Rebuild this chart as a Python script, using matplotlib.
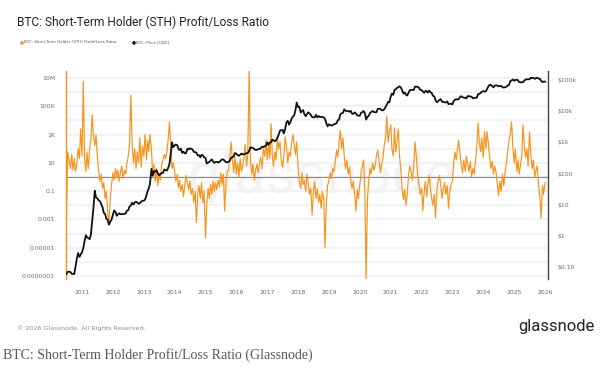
import matplotlib
matplotlib.use("Agg")
import matplotlib.pyplot as plt
import matplotlib.ticker as mticker
import pandas as pd

# samples on the 1st and 15th of each month, Jul 2010 .. Jan 2026
DATES = pd.date_range("2010-07-01", periods=373, freq="SMS")

STH_RATIO = [
    1e-3, 60, 16, 4, 40, 3, 20, 2.5, 10, 100, 20, 2500,  # 2010 H2
    30, 6e6, 16, 2.5, 60, 4, 100, 400, 25000, 1000, 160, 1000, 30, 3, 0.5, 1.6, 0.16, 0.4, 0.03, 0.1, 3e-3, 4e-4, 0.03, 0.25,  # 2011
    2, 0.6, 4, 1, 3, 0.5, 2.5, 6, 0.8, 3, 1.6, 10, 30, 200, 6e5, 300, 10, 100, 4, 60, 10, 600, 5, 160,  # 2012
    30, 1000, 16, 400, 60, 1000, 100, 1.6, 8, 0.5, 4, 0.25, 2, 0.6, 8, 16, 40, 20, 60, 400, 8000, 160, 4, 10,  # 2013
    2.5, 0.5, 1.6, 0.16, 0.6, 0.1, 0.3, 0.04, 0.25, 1.3, 0.4, 0.13, 0.5, 0.06, 0.16, 0.016, 0.1, 6e-4, 0.06, 0.25, 0.03, 0.4, 0.016, 0.1,  # 2014
    5e-5, 0.01, 0.16, 0.03, 0.3, 0.06, 0.5, 0.1, 0.4, 0.13, 0.6, 0.2, 2, 0.3, 1.6, 4e-3, 0.5, 2.5, 3, 25, 300, 16, 2, 30,  # 2015
    1.6, 10, 1, 20, 2.5, 6, 30, 200, 6, 40, 5e7, 16, 1.6, 8, 0.6, 3, 8, 2, 10, 25, 4, 100, 30, 400,  # 2016
    16, 250, 20, 6000, 40, 6, 60, 16, 700, 100, 300, 16, 5, 25, 700, 160, 10, 60, 30, 250, 1000, 200, 40, 300,  # 2017
    4, 0.5, 0.16, 2, 0.3, 0.6, 0.1, 1.6, 0.4, 0.06, 0.16, 2e-3, 0.1, 0.5, 0.03, 0.16, 0.016, 0.06, 6e-3, 0.1, 0.025, 1e-5, 0.016, 0.25,  # 2018
    0.6, 2, 0.8, 4, 2.5, 10, 80, 25, 250, 2000, 100, 600, 30, 4, 16, 1.6, 5, 0.6, 0.16, 0.5, 0.06, 4e-3, 0.13, 0.03,  # 2019
    0.3, 2, 6, 16, 0.1, 5e-8, 0.03, 0.5, 4, 1.6, 10, 3, 6, 30, 80, 16, 2, 8, 20, 160, 600, 20000, 300, 1600,  # 2020
    5000, 100, 30, 3000, 60, 300, 2500, 30, 3, 0.16, 0.025, 0.13, 0.01, 0.06, 1.6, 6, 2, 0.6, 8, 300, 25, 1.6, 0.3, 0.06,  # 2021
    0.16, 4e-3, 0.1, 0.5, 0.04, 0.25, 1.3, 0.16, 0.03, 0.01, 0.06, 1.3e-3, 0.1, 0.5, 1.3, 0.3, 0.03, 0.13, 0.4, 0.06, 0.25, 6e-3, 0.1, 0.3,  # 2022
    0.5, 10, 60, 16, 100, 400, 40, 8, 2, 16, 2.5, 30, 8, 2.5, 13, 1, 4, 1.6, 16, 100, 7000, 300, 60, 600,  # 2023
    25, 1600, 100, 1600, 250, 30, 4, 13, 1.6, 6, 2, 0.3, 0.05, 0.5, 0.1, 1.6, 0.25, 2.5, 10, 60, 400, 1000, 8000, 160,  # 2024
    10, 100, 2.5, 16, 1.6, 6, 30, 5000, 160, 25, 100, 6, 1600, 60, 4, 16, 1, 3, 6, 0.3, 0.04, 1.3e-3, 0.25, 0.06,  # 2025
    0.4,  # 2026
]

BTC_PRICE = [
    0.06, 0.07, 0.07, 0.07, 0.06, 0.06, 0.06, 0.10, 0.19, 0.28, 0.21, 0.25,  # 2010 H2
    0.30, 0.40, 0.70, 1.05, 0.90, 0.85, 0.78, 1.1, 3.2, 7.5, 28, 17, 16, 13.8, 13, 10.5, 8.2, 5.5, 5.0, 3.6, 3.2, 2.3, 2.8, 3.3,  # 2011
    4.7, 6.5, 5.9, 4.4, 4.9, 5.3, 4.9, 5.0, 5.0, 5.0, 5.3, 6.4, 6.7, 8.7, 9.4, 11.5, 10.1, 11.8, 12.4, 11.8, 10.7, 11.2, 12.5, 13.3,  # 2012
    13.4, 14.5, 20, 27, 34, 47, 140, 85, 120, 115, 128, 100, 88, 95, 104, 105, 135, 128, 125, 150, 205, 420, 1000, 700,  # 2013
    800, 850, 810, 620, 560, 630, 460, 500, 440, 450, 630, 590, 640, 620, 590, 500, 480, 470, 380, 390, 330, 400, 380, 330,  # 2014
    315, 210, 225, 235, 260, 285, 245, 220, 235, 237, 225, 235, 260, 285, 280, 255, 230, 230, 238, 255, 325, 330, 360, 455,  # 2015
    430, 390, 370, 400, 435, 415, 415, 430, 450, 455, 535, 690, 675, 665, 605, 570, 575, 605, 615, 640, 730, 710, 750, 780,  # 2016
    1000, 830, 990, 1010, 1220, 1170, 1080, 1180, 1420, 1750, 2400, 2450, 2500, 1930, 2720, 4300, 4900, 3700, 4400, 5700, 6750, 7300, 10900, 19000,  # 2017
    13500, 13800, 9100, 10000, 10900, 8200, 6900, 8000, 9200, 8500, 7500, 6500, 6350, 6350, 7600, 6300, 7000, 6500, 6600, 6500, 6350, 5600, 4100, 3250,  # 2018
    3800, 3600, 3450, 3600, 3800, 3900, 4100, 5100, 5350, 7900, 8600, 8800, 11500, 10300, 10100, 10200, 9600, 10300, 8300, 8200, 9200, 8500, 7400, 7100,  # 2019
    7200, 8800, 9400, 10200, 8600, 5400, 6600, 7100, 8800, 9400, 10200, 9400, 9200, 9200, 11800, 11900, 11900, 10800, 10600, 11500, 13800, 16000, 19700, 19300,  # 2020
    29400, 36800, 33500, 48600, 49600, 56000, 59000, 63000, 57800, 46700, 36700, 40200, 33500, 31800, 39900, 47000, 48800, 48100, 48200, 61600, 61300, 60400, 57200, 48900,  # 2021
    47700, 43100, 38700, 44500, 44400, 39300, 46300, 40600, 38500, 31300, 29800, 22500, 19300, 20800, 23300, 24300, 20100, 19700, 19300, 19100, 20500, 16900, 17100, 17400,  # 2022
    16600, 20900, 23700, 24300, 23600, 24300, 28500, 30300, 28100, 27200, 27000, 25600, 30600, 30300, 29700, 29200, 25900, 26600, 27000, 26900, 35400, 35600, 38700, 42300,  # 2023
    44200, 42500, 43100, 51800, 62400, 69500, 69700, 63400, 58300, 66200, 67800, 66200, 62700, 64700, 64600, 58700, 57300, 59100, 60800, 67000, 69500, 91000, 97300, 104500,  # 2024
    94400, 100500, 102400, 97600, 86000, 84300, 85200, 84500, 96400, 103700, 105700, 105500, 105700, 117700, 115800, 117400, 109200, 115300, 118600, 111000, 110000, 94500, 86500, 89500,  # 2025
    88700,  # 2026
]

YEARS = list(range(2011, 2027))
LEFT_TICKS = [1e7, 1e5, 1e3, 10, 0.1, 1e-3, 1e-5, 1e-7]
LEFT_LABELS = ["10M", "100K", "1K", "10", "0.1", "0.001", "0.00001", "0.0000001"]
RIGHT_TICKS = [1e5, 1e4, 1e3, 100, 10, 1, 0.1]
RIGHT_LABELS = ["\\$100k", "\\$10k", "\\$1k", "\\$100", "\\$10", "\\$1", "\\$0.10"]

TITLE = "BTC: Short-Term Holder (STH) Profit/Loss Ratio"
CAPTION = "BTC: Short-Term Holder Profit/Loss Ratio (Glassnode)"

ORANGE = "#f7931a"
GREY = "#6b6b6b"

assert len(STH_RATIO) == len(DATES) == len(BTC_PRICE)

W, H = 600, 368
fig = plt.figure(figsize=(W / 100, H / 100), dpi=100)
fig.patch.set_facecolor("white")

ax = fig.add_axes([66 / W, 1 - 279 / H, (548 - 66) / W, (279 - 71) / H])
ax2 = ax.twinx()

ax.set_yscale("log")
ax.set_ylim(10 ** -7.21, 10 ** 7.5)
ax2.set_yscale("log")
ax2.set_ylim(10 ** -1.385, 10 ** 5.29)
ax.set_xlim(pd.Timestamp("2010-06-25"), pd.Timestamp("2026-02-05"))

# faint decade gridlines + watermark
ax.yaxis.set_major_locator(mticker.FixedLocator(LEFT_TICKS))
ax.yaxis.set_major_formatter(mticker.FixedFormatter(LEFT_LABELS))
ax.yaxis.set_minor_locator(mticker.LogLocator(base=10, subs=(1.0,), numticks=30))
ax.yaxis.set_minor_formatter(mticker.NullFormatter())
ax.grid(True, which="both", axis="y", color="#f2f2f2", lw=1.6, zorder=0)
ax.set_axisbelow(True)
ax.text(0.53, 0.49, "glassnode", transform=ax.transAxes, fontsize=42,
        color="#f3f3f3", ha="center", va="center", zorder=0.5, family="Roboto")

ax.axhline(1, color="#8c8c8c", lw=0.8, zorder=1)
ax.plot(DATES, STH_RATIO, color=ORANGE, lw=0.85, zorder=2)
ax2.plot(DATES, BTC_PRICE, color="#111111", lw=1.3, zorder=3)

ax2.yaxis.set_major_locator(mticker.FixedLocator(RIGHT_TICKS))
ax2.yaxis.set_major_formatter(mticker.FixedFormatter(RIGHT_LABELS))
ax2.yaxis.set_minor_locator(mticker.NullLocator())

ax.set_xticks([pd.Timestamp(f"{y}-01-01") for y in YEARS])
ax.set_xticklabels([str(y) for y in YEARS])

ax.tick_params(axis="x", length=0, pad=8, labelsize=4.4, labelcolor=GREY)
ax.tick_params(axis="y", which="both", length=0, pad=8, labelsize=4.4, labelcolor=GREY)
ax2.tick_params(axis="y", which="both", length=0, pad=7, labelsize=4.4, labelcolor=GREY)

for a in (ax, ax2):
    a.spines["top"].set_visible(False)
    a.spines["bottom"].set_visible(False)
ax.spines["right"].set_visible(False)
ax2.spines["left"].set_visible(False)
ax.spines["left"].set_color(ORANGE)
ax.spines["left"].set_linewidth(1.0)
ax2.spines["right"].set_color("#444444")
ax2.spines["right"].set_linewidth(1.0)

# header
fig.text(17 / W, 1 - 22 / H, TITLE, fontsize=8.6, color="#222222", va="center",
         family="Roboto")
fig.text(20 / W, 1 - 42 / H, "\u25cf", fontsize=3.3, color=ORANGE, va="center")
fig.text(24 / W, 1 - 42 / H, "BTC: Short-Term Holder (STH) Profit/Loss Ratio",
         fontsize=2.9, color="#555555", va="center")
fig.text(132 / W, 1 - 42 / H, "\u25cf", fontsize=3.3, color="#111111", va="center")
fig.text(136 / W, 1 - 42 / H, "BTC: Price [USD]", fontsize=2.9, color="#555555",
         va="center")

# footer
fig.text(17 / W, 1 - 328 / H, "\u00a9 2026 Glassnode. All Rights Reserved.",
         fontsize=4.6, color="#8a8a8a", va="center")
fig.text(595 / W, 1 - 327 / H, "glassnode", fontsize=12, color="#222222",
         ha="right", va="center", family="Roboto")
fig.text(3 / W, 1 - 355 / H, CAPTION, fontsize=10, color="#555555", va="center",
         family="Liberation Serif")

fig.savefig("out.png", dpi=100)
